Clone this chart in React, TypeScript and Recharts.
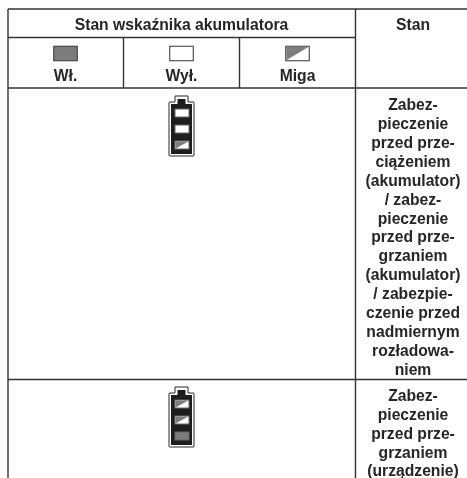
import React from 'react';
import { ScatterChart, Scatter, XAxis, YAxis, ReferenceLine } from 'recharts';

// Table content
const titleLabel = 'Stan wskaźnika akumulatora';
const stateLabel = 'Stan';
const legendLabels = ['Wł.', 'Wył.', 'Miga'];
const legendStates = ['on', 'off', 'blink'];
const batteryStates = [
  ['off', 'off', 'blink'],
  ['blink', 'blink', 'on'],
];
const statusLines = [
  [
    'Zabez-', 'pieczenie', 'przed prze-', 'ciążeniem', '(akumulator)', '/ zabez-', 'pieczenie',
    'przed prze-', 'grzaniem', '(akumulator)', '/ zabezpie-', 'czenie przed', 'nadmiernym', 'rozładowa-', 'niem',
  ],
  ['Zabez-', 'pieczenie', 'przed prze-', 'grzaniem', '(urządzenie)'],
];

// Table layout, in page pixels
const W = 467;
const H = 478;
const colX = [8, 123.5, 239.5, 355.5];
const rowY = [9, 37.5, 88, 379.5];
const centerX = [65.5, 181.5, 297.5, 413];
const lineGap = 18.87;
const firstLineY = [105, 395.5];

const textPoints = [
  { x: centerX[1], y: 25, label: titleLabel },
  { x: centerX[3], y: 25, label: stateLabel },
  ...legendLabels.map((label, i) => ({ x: centerX[i], y: 76, label })),
  ...statusLines.flatMap((lines, r) =>
    lines.map((label, i) => ({ x: centerX[3], y: firstLineY[r] + i * lineGap, label })),
  ),
];
const swatchPoints = legendStates.map((state, i) => ({ x: centerX[i], y: 53.5, state }));
const batteryPoints = batteryStates.map((cells, r) => ({ x: centerX[1], y: [129, 420][r], cells }));

const INK = '#262626';
const GREY = '#7d7d7d';

const TextShape = (props: any) => (
  <text
    x={props.cx}
    y={props.cy}
    dy={5.4}
    textAnchor="middle"
    fontFamily="Liberation Sans"
    fontWeight="bold"
    fontSize={15.7}
    fill={INK}
  >
    {props.payload.label}
  </text>
);

// one indicator cell, centred on x/y
const Cell = ({ x, y, w, h, state, stroke }: any) => (
  <g>
    <rect x={x - w / 2} y={y - h / 2} width={w} height={h} fill={state === 'on' ? GREY : '#fff'} stroke={stroke} strokeWidth={1} />
    {state === 'blink' && (
      <path d={`M${x - w / 2 + 0.5} ${y - h / 2 + 0.5}H${x + w / 2 - 0.5}L${x - w / 2 + 0.5} ${y + h / 2 - 0.5}Z`} fill={GREY} />
    )}
  </g>
);

const SwatchShape = (props: any) => (
  <Cell x={props.cx} y={props.cy} w={23.5} h={14.5} state={props.payload.state} stroke="#333" />
);

const BatteryShape = (props: any) => {
  const { cx, cy, payload } = props;
  return (
    <g>
      <path
        d={`M${cx - 6.5} ${cy - 27}V${cy - 33}H${cx + 6.5}V${cy - 27}H${cx + 12}Q${cx + 12.5} ${cy - 27} ${cx + 12.5} ${cy - 26}V${cy + 26}Q${cx + 12.5} ${cy + 27} ${cx + 11.5} ${cy + 27}H${cx - 11.5}Q${cx - 12.5} ${cy + 27} ${cx - 12.5} ${cy + 26}V${cy - 26}Q${cx - 12.5} ${cy - 27} ${cx - 11.5} ${cy - 27}Z`}
        fill="#fff"
        stroke={INK}
        strokeWidth={1}
      />
      <rect x={cx - 10.5} y={cy - 25} width={21} height={50} fill="#1d1d1d" />
      <rect x={cx - 4} y={cy - 30} width={8} height={6} fill="#1d1d1d" />
      {payload.cells.map((state: string, i: number) => (
        <Cell key={i} x={cx + 0.5} y={cy + (i - 1) * 16} w={14} h={8} state={state} stroke="#666" />
      ))}
    </g>
  );
};

const line = { stroke: '#333', strokeWidth: 1.4 };

export default function App() {
  return (
    <div style={{ position: 'absolute', left: 0, top: 0, width: W, height: H, overflow: 'hidden', background: '#fff', filter: 'blur(0.35px)' }}>
      <ScatterChart width={W} height={H} margin={{ top: 0, right: 0, bottom: 0, left: 0 }}>
        <XAxis type="number" dataKey="x" domain={[0, W]} hide />
        <YAxis type="number" dataKey="y" domain={[0, H]} reversed hide />

        {/* outer and section rules */}
        <ReferenceLine segment={[{ x: colX[0], y: rowY[0] }, { x: W, y: rowY[0] }]} {...line} />
        <ReferenceLine segment={[{ x: colX[0], y: rowY[1] }, { x: colX[3], y: rowY[1] }]} {...line} />
        <ReferenceLine segment={[{ x: colX[0], y: rowY[2] }, { x: W, y: rowY[2] }]} {...line} />
        <ReferenceLine segment={[{ x: colX[0], y: rowY[3] }, { x: W, y: rowY[3] }]} {...line} />
        <ReferenceLine segment={[{ x: colX[0], y: rowY[0] }, { x: colX[0], y: H }]} {...line} />
        <ReferenceLine segment={[{ x: colX[3], y: rowY[0] }, { x: colX[3], y: H }]} {...line} />
        <ReferenceLine segment={[{ x: colX[1], y: rowY[1] }, { x: colX[1], y: rowY[2] }]} {...line} />
        <ReferenceLine segment={[{ x: colX[2], y: rowY[1] }, { x: colX[2], y: rowY[2] }]} {...line} />

        <Scatter data={swatchPoints} shape={SwatchShape} isAnimationActive={false} />
        <Scatter data={batteryPoints} shape={BatteryShape} isAnimationActive={false} />
        <Scatter data={textPoints} shape={TextShape} isAnimationActive={false} />
      </ScatterChart>
    </div>
  );
}
